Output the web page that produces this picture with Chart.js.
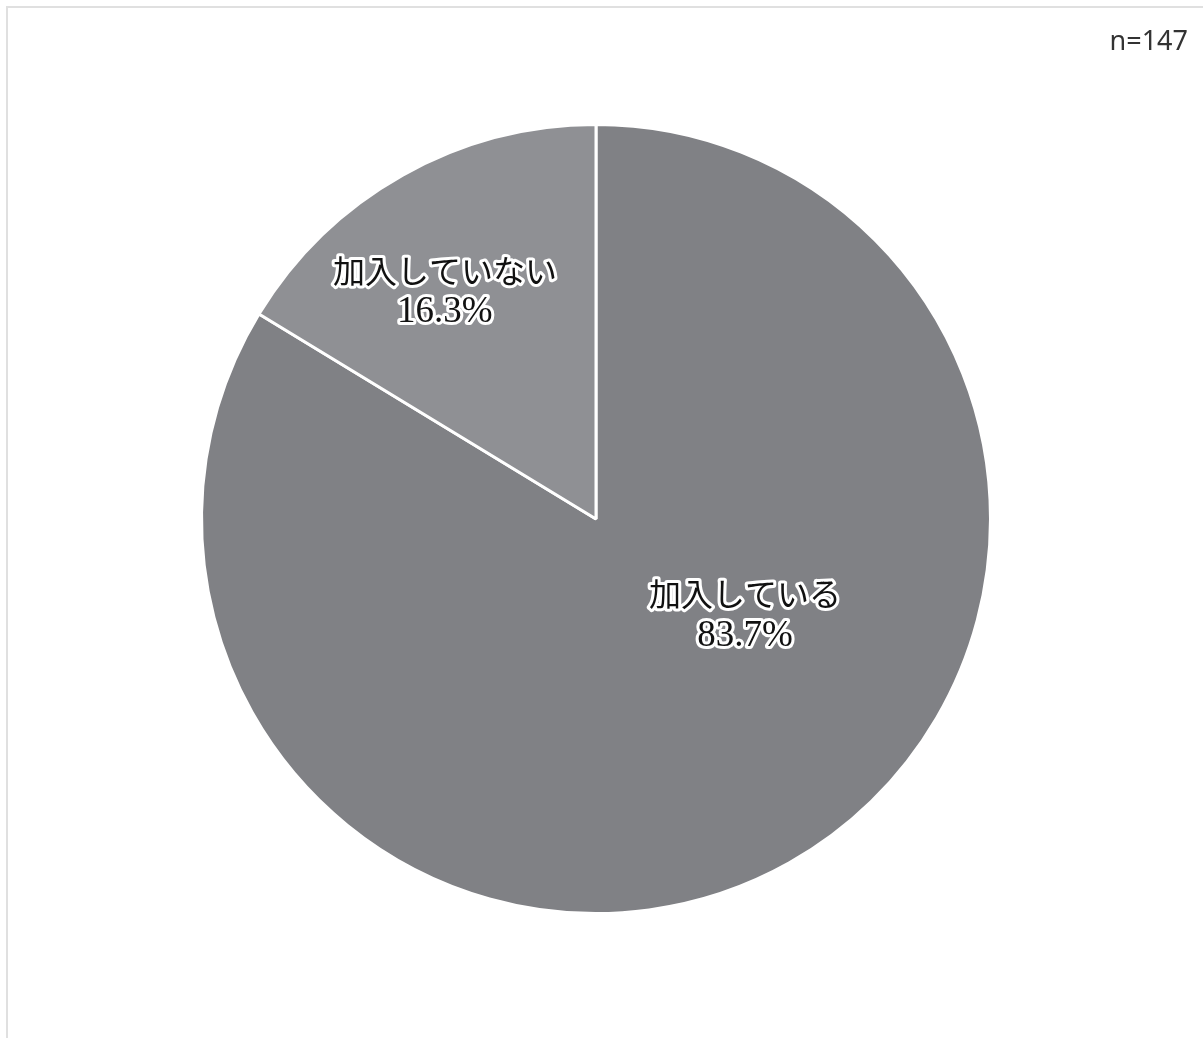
<!DOCTYPE html>
<html lang="ja">
<head>
<meta charset="utf-8">
<title>加入状況</title>
<script src="https://cdn.jsdelivr.net/npm/chart.js@4/dist/chart.umd.min.js"></script>
<style>
    html, body { margin: 0; padding: 0; background: #fff; overflow: hidden; }
    .frame {
        position: absolute; left: 6px; top: 6px;
        width: 1400px; height: 1200px;
        border: 2px solid #e0e0e0;
    }
    .count {
        position: absolute; right: 15px; top: 21px;
        font: 27px 'Noto Sans', sans-serif; color: #333;
    }
    .wrap { position: absolute; left: 0; top: 0; width: 1203px; height: 1038px; }
</style>
</head>
<body>
<div class="frame"></div>
<div class="wrap"><canvas id="pie"></canvas></div>
<div class="count">n=147</div>
<script>
const categories = ['加入している', '加入していない'];
const shares = [83.7, 16.3];
const sliceColors = ['#808185', '#8f9094'];

// where each label sits, as a fraction of the radius from the centre
const labelSpots = [
    { x: 0.378, y: 0.244 },
    { x: -0.383, y: -0.576 }
];

const sliceLabels = {
    id: 'sliceLabels',
    afterDatasetsDraw(chart) {
        const ctx = chart.ctx;
        const arcs = chart.getDatasetMeta(0).data;
        ctx.save();
        ctx.textAlign = 'center';
        ctx.textBaseline = 'middle';
        ctx.lineJoin = 'round';
        arcs.forEach((arc, i) => {
            const r = arc.outerRadius;
            const cx = arc.x + labelSpots[i].x * r;
            const cy = arc.y + labelSpots[i].y * r;
            const lines = [categories[i], shares[i].toFixed(1) + '%'];
            const fonts = [
                "32px 'Noto Sans CJK JP', serif",
                "37px 'Liberation Serif', serif"
            ];
            lines.forEach((line, j) => {
                const y = cy + (j - 0.5) * 42;
                ctx.font = fonts[j];
                ctx.lineWidth = 6;
                ctx.strokeStyle = '#fff';
                ctx.strokeText(line, cx, y);
                ctx.fillStyle = '#111';
                ctx.fillText(line, cx, y);
            });
        });
        ctx.restore();
    }
};

new Chart(document.getElementById('pie'), {
    type: 'pie',
    data: {
        labels: categories,
        datasets: [{
            data: shares,
            backgroundColor: sliceColors,
            borderColor: '#ffffff',
            borderWidth: 3
        }]
    },
    options: {
        responsive: true,
        maintainAspectRatio: false,
        animation: false,
        layout: { padding: { left: 200, top: 123, right: 211, bottom: 123 } },
        plugins: {
            legend: { display: false },
            tooltip: { enabled: false }
        }
    },
    plugins: [sliceLabels]
});
</script>
</body>
</html>
